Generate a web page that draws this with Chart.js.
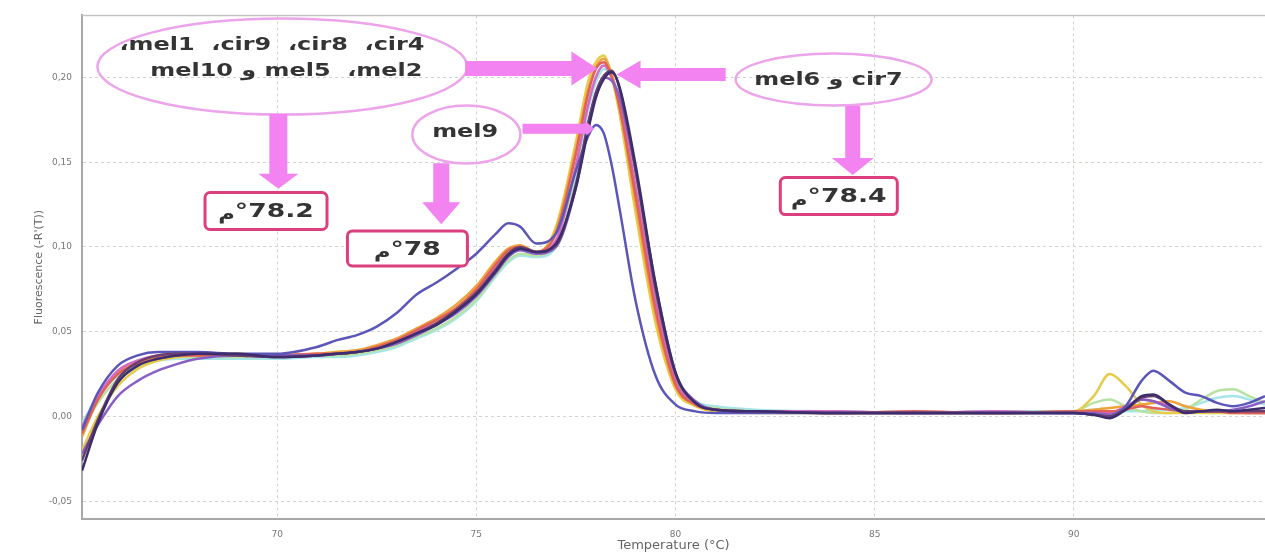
<!DOCTYPE html>
<html>
<head>
<meta charset="utf-8">
<script src="https://cdn.jsdelivr.net/npm/chart.js@4.4.1/dist/chart.umd.min.js"></script>
<style>
  html, body { margin: 0; padding: 0; background: #fff; }
  #wrap { width: 1265px; height: 553px; }
</style>
</head>
<body>
<div id="wrap"><canvas id="meltChart"></canvas></div>
<script>
// temperature (°C) sample points, shared by every curve
const temps = [
  65.1, 65.5, 66, 66.5, 67, 67.5, 68, 69, 70, 71, 71.5, 72, 72.5, 73, 73.5, 74, 74.5,
  75, 75.5, 75.8, 76.1, 76.5, 77, 77.5, 77.8, 78, 78.2, 78.4, 78.6, 79, 79.5, 80,
  80.5, 81, 82, 84, 86, 88, 90, 90.5, 90.9, 91.3, 91.7, 92, 92.4, 92.8, 93.2, 93.6,
  94, 94.4, 94.8,
];

// -R'(T) per sample
const mel6 = [
  -0.032, -0.004, 0.02, 0.03, 0.034, 0.036, 0.037, 0.037, 0.035, 0.036, 0.037, 0.038, 0.04,
  0.044, 0.049, 0.054, 0.062, 0.072, 0.086, 0.095, 0.099, 0.097, 0.102, 0.135, 0.168, 0.188,
  0.199, 0.203, 0.194, 0.148, 0.078, 0.026, 0.008, 0.004, 0.003, 0.002, 0.002, 0.002, 0.002,
  0.001, -0.001, 0.004, 0.012, 0.013, 0.007, 0.002, 0.003, 0.004, 0.003, 0.004, 0.005,
];
const cir7 = [
  -0.026, -0.002, 0.022, 0.032, 0.036, 0.037, 0.037, 0.036, 0.035, 0.036, 0.037, 0.038, 0.04,
  0.044, 0.049, 0.055, 0.063, 0.073, 0.087, 0.096, 0.1, 0.097, 0.101, 0.137, 0.172, 0.191,
  0.201, 0.204, 0.193, 0.145, 0.075, 0.025, 0.008, 0.004, 0.003, 0.002, 0.002, 0.002, 0.002,
  0.001, 0.0, 0.004, 0.011, 0.012, 0.007, 0.003, 0.003, 0.003, 0.003, 0.003, 0.003,
];
const mel9 = [
  -0.008, 0.014, 0.03, 0.036, 0.038, 0.038, 0.038, 0.037, 0.037, 0.041, 0.045, 0.048, 0.053,
  0.061, 0.072, 0.079, 0.087, 0.096, 0.108, 0.114, 0.112, 0.102, 0.108, 0.145, 0.165, 0.172,
  0.167, 0.148, 0.122, 0.068, 0.024, 0.007, 0.003, 0.002, 0.002, 0.002, 0.002, 0.002, 0.002,
  0.001, 0.0, 0.006, 0.021, 0.027, 0.021, 0.014, 0.012, 0.008, 0.006, 0.008, 0.012,
];
const mel10 = [
  -0.022, -0.005, 0.012, 0.021, 0.027, 0.031, 0.034, 0.036, 0.036, 0.036, 0.037, 0.038, 0.04,
  0.043, 0.048, 0.054, 0.061, 0.071, 0.085, 0.094, 0.098, 0.096, 0.1, 0.135, 0.172, 0.19,
  0.2, 0.198, 0.188, 0.145, 0.078, 0.026, 0.009, 0.004, 0.003, 0.002, 0.002, 0.002, 0.002,
  0.002, 0.001, 0.005, 0.01, 0.009, 0.005, 0.003, 0.003, 0.003, 0.004, 0.006, 0.009,
];
const cir4 = [
  -0.01, 0.01, 0.025, 0.031, 0.034, 0.036, 0.036, 0.036, 0.036, 0.037, 0.037, 0.038, 0.041,
  0.045, 0.051, 0.057, 0.064, 0.075, 0.09, 0.098, 0.1, 0.097, 0.108, 0.155, 0.19, 0.205,
  0.209, 0.2, 0.182, 0.13, 0.063, 0.019, 0.007, 0.004, 0.003, 0.002, 0.003, 0.002, 0.003,
  0.003, 0.003, 0.004, 0.006, 0.005, 0.004, 0.003, 0.003, 0.003, 0.002, 0.002, 0.002,
];
const cir8 = [
  -0.006, 0.012, 0.027, 0.033, 0.036, 0.037, 0.037, 0.036, 0.035, 0.036, 0.037, 0.038, 0.04,
  0.044, 0.05, 0.055, 0.062, 0.073, 0.088, 0.096, 0.1, 0.097, 0.104, 0.148, 0.183, 0.2,
  0.207, 0.2, 0.185, 0.135, 0.068, 0.021, 0.008, 0.004, 0.003, 0.003, 0.002, 0.003, 0.002,
  0.002, 0.002, 0.006, 0.01, 0.009, 0.006, 0.003, 0.003, 0.003, 0.003, 0.002, 0.002,
];
const cir9 = [
  -0.012, 0.01, 0.026, 0.032, 0.035, 0.036, 0.037, 0.037, 0.036, 0.037, 0.038, 0.039, 0.042,
  0.046, 0.052, 0.058, 0.066, 0.077, 0.092, 0.099, 0.101, 0.097, 0.11, 0.158, 0.192, 0.206,
  0.211, 0.202, 0.182, 0.126, 0.06, 0.018, 0.007, 0.004, 0.003, 0.002, 0.002, 0.002, 0.003,
  0.004, 0.005, 0.006, 0.007, 0.008, 0.009, 0.006, 0.004, 0.003, 0.003, 0.003, 0.003,
];
const mel1 = [
  -0.02, 0.0, 0.018, 0.028, 0.033, 0.035, 0.036, 0.036, 0.036, 0.037, 0.038, 0.039, 0.041,
  0.045, 0.05, 0.056, 0.064, 0.075, 0.09, 0.097, 0.099, 0.096, 0.112, 0.162, 0.197, 0.209,
  0.213, 0.2, 0.178, 0.12, 0.055, 0.016, 0.006, 0.003, 0.002, 0.002, 0.002, 0.002, 0.003,
  0.012, 0.025, 0.018, 0.007, 0.003, 0.002, 0.002, 0.002, 0.002, 0.002, 0.002, 0.002,
];
const mel5 = [
  -0.008, 0.008, 0.022, 0.029, 0.033, 0.035, 0.035, 0.035, 0.035, 0.036, 0.036, 0.037, 0.039,
  0.042, 0.047, 0.052, 0.059, 0.069, 0.084, 0.092, 0.096, 0.095, 0.103, 0.145, 0.185, 0.2,
  0.207, 0.201, 0.186, 0.136, 0.07, 0.023, 0.008, 0.005, 0.003, 0.002, 0.002, 0.002, 0.003,
  0.008, 0.01, 0.006, 0.003, 0.002, 0.002, 0.004, 0.01, 0.015, 0.016, 0.012, 0.008,
];
const mel2 = [
  -0.004, 0.012, 0.024, 0.03, 0.033, 0.034, 0.034, 0.034, 0.034, 0.035, 0.035, 0.036, 0.038,
  0.041, 0.046, 0.051, 0.058, 0.068, 0.083, 0.091, 0.095, 0.094, 0.1, 0.14, 0.18, 0.197,
  0.205, 0.2, 0.187, 0.14, 0.075, 0.025, 0.009, 0.006, 0.004, 0.003, 0.002, 0.003, 0.003,
  0.004, 0.003, 0.003, 0.003, 0.004, 0.004, 0.005, 0.008, 0.011, 0.012, 0.01, 0.007,
];

const samples = [
  { name: "mel6", values: mel6, color: "#3b2d6e" },
  { name: "cir7", values: cir7, color: "#6a3f6a" },
  { name: "mel9", values: mel9, color: "#5b56b8" },
  { name: "mel10", values: mel10, color: "#8a5fc4" },
  { name: "cir4", values: cir4, color: "#e0605a" },
  { name: "cir8", values: cir8, color: "#d46ac4" },
  { name: "cir9", values: cir9, color: "#eea23c" },
  { name: "mel1", values: mel1, color: "#e6cc4a" },
  { name: "mel5", values: mel5, color: "#b8e2a4" },
  { name: "mel2", values: mel2, color: "#a4e6ea" },
];

const xTicks = [70, 75, 80, 85, 90];
const yTicks = [-0.05, 0, 0.05, 0.1, 0.15, 0.2];

const PINK = "#f283f0";
const RING = "#eca4ea";
const BOX = "#dc3f7e";
const INK = "#343434";
const FONT = "'DejaVu Sans', sans-serif";
const STRETCH = 1.33;

function arrow(ctx, x1, y1, x2, y2, w, hl, hw) {
  const a = Math.atan2(y2 - y1, x2 - x1);
  const len = Math.hypot(x2 - x1, y2 - y1);
  ctx.save();
  ctx.translate(x1, y1);
  ctx.rotate(a);
  ctx.beginPath();
  ctx.moveTo(0, -w / 2);
  ctx.lineTo(len - hl, -w / 2);
  ctx.lineTo(len - hl, -hw / 2);
  ctx.lineTo(len, 0);
  ctx.lineTo(len - hl, hw / 2);
  ctx.lineTo(len - hl, w / 2);
  ctx.lineTo(0, w / 2);
  ctx.closePath();
  ctx.fillStyle = PINK;
  ctx.fill();
  ctx.restore();
}

function ring(ctx, cx, cy, rx, ry) {
  ctx.beginPath();
  ctx.ellipse(cx, cy, rx, ry, 0, 0, Math.PI * 2);
  ctx.strokeStyle = RING;
  ctx.lineWidth = 2.5;
  ctx.stroke();
}

// horizontally stretched text, like the scaled-up original figure
function label(ctx, txt, cx, cy, size) {
  ctx.save();
  ctx.translate(cx, cy);
  ctx.scale(STRETCH, 1);
  ctx.font = "bold " + size + "px " + FONT;
  ctx.fillStyle = INK;
  ctx.textAlign = "center";
  ctx.textBaseline = "middle";
  ctx.direction = "ltr";
  ctx.fillText(txt, 0, 0);
  ctx.restore();
}

function tempBox(ctx, cx, cy, w, h, num) {
  ctx.save();
  ctx.beginPath();
  ctx.roundRect(cx - w / 2, cy - h / 2, w, h, 5);
  ctx.fillStyle = "#fff";
  ctx.fill();
  ctx.strokeStyle = BOX;
  ctx.lineWidth = 3;
  ctx.stroke();
  ctx.translate(cx, cy);
  ctx.scale(STRETCH, 1);
  ctx.fillStyle = INK;
  ctx.textBaseline = "middle";
  ctx.textAlign = "left";
  ctx.font = "bold 17px " + FONT;
  const wm = ctx.measureText("م").width;
  ctx.font = "bold 20px " + FONT;
  const wn = ctx.measureText("°" + num).width;
  const x0 = -(wm + wn) / 2;
  ctx.fillText("°" + num, x0 + wm, 1);
  ctx.font = "bold 17px " + FONT;
  ctx.fillText("م", x0, 5);
  ctx.restore();
}

const notesPlugin = {
  id: "notes",
  afterDatasetsDraw(chart) {
    const { ctx, chartArea, scales } = chart;
    const X = (t) => scales.x.getPixelForValue(t);
    const Y = (v) => scales.y.getPixelForValue(v);

    // frame top edge
    ctx.save();
    ctx.strokeStyle = "#c4c4c4";
    ctx.lineWidth = 1.5;
    ctx.beginPath();
    ctx.moveTo(chartArea.left, chartArea.top);
    ctx.lineTo(chartArea.right, chartArea.top);
    ctx.stroke();

    // big group, peak at 78.2
    ring(ctx, X(70.13), Y(0.2064), 185, 48);
    label(ctx, "،mel1  ،cir9  ،cir8  ،cir4", X(69.87), Y(0.2192), 18);
    label(ctx, "mel10 و mel5  ،mel2", X(70.23), Y(0.2035), 18);
    arrow(ctx, X(74.72), Y(0.2052), X(78.04), Y(0.2052), 15, 26, 34);
    arrow(ctx, X(70.03), Y(0.1785), X(70.03), Y(0.1343), 18, 15, 40);
    tempBox(ctx, X(69.72), Y(0.1212), 122, 37, "78.2");

    // mel9, peak at 78
    ring(ctx, X(74.75), Y(0.1663), 54, 29);
    label(ctx, "mel9", X(74.72), Y(0.1675), 18);
    arrow(ctx, X(76.16), Y(0.1698), X(77.96), Y(0.1698), 10, 8, 14);
    arrow(ctx, X(74.12), Y(0.1494), X(74.12), Y(0.1134), 16, 22, 38);
    tempBox(ctx, X(73.27), Y(0.0991), 120, 35, "78");

    // mel6 and cir7, peak at 78.4
    ring(ctx, X(83.97), Y(0.1988), 98, 26);
    label(ctx, "mel6 و cir7", X(83.84), Y(0.1983), 18);
    arrow(ctx, X(81.26), Y(0.2017), X(78.52), Y(0.2017), 13, 24, 28);
    arrow(ctx, X(84.45), Y(0.1831), X(84.45), Y(0.1424), 15, 17, 42);
    tempBox(ctx, X(84.1), Y(0.13), 117, 37, "78.4");
    ctx.restore();
  },
};

new Chart(document.getElementById("meltChart"), {
  type: "line",
  data: {
    datasets: samples.map((s) => ({
      label: s.name,
      data: temps.map((t, i) => ({ x: t, y: s.values[i] })),
      borderColor: s.color,
      borderWidth: 2.5,
      pointRadius: 0,
      fill: false,
      cubicInterpolationMode: "monotone",
    })),
  },
  options: {
    responsive: true,
    maintainAspectRatio: false,
    animation: false,
    layout: { padding: { top: 8, right: 0, left: 0, bottom: 0 } },
    scales: {
      x: {
        type: "linear",
        min: 65.1,
        max: 94.8,
        afterBuildTicks: (scale) => {
          scale.ticks = xTicks.map((v) => ({ value: v }));
        },
        afterFit: (scale) => {
          scale.height = 34;
        },
        grid: { color: "#cfd6cb", drawTicks: false },
        border: { display: true, color: "#a8a8a8", width: 2, dash: [3, 3] },
        ticks: { padding: 10, color: "#777", font: { family: FONT, size: 9 } },
        title: {
          display: true,
          text: "Temperature (°C)",
          color: "#666",
          font: { family: FONT, size: 13 },
          padding: { top: 0, bottom: 0 },
        },
      },
      y: {
        min: -0.0605,
        max: 0.2366,
        afterBuildTicks: (scale) => {
          scale.ticks = yTicks.map((v) => ({ value: v }));
        },
        afterFit: (scale) => {
          scale.width = 82;
        },
        grid: { color: "#cfd6cb", drawTicks: false },
        border: { display: true, color: "#a8a8a8", width: 2, dash: [3, 3] },
        ticks: {
          padding: 10,
          color: "#777",
          font: { family: FONT, size: 9 },
          callback: (v) => v.toFixed(2).replace(".", ","),
        },
        title: {
          display: true,
          text: "Fluorescence (-R'(T))",
          color: "#666",
          font: { family: FONT, size: 11 },
          padding: { top: 33, bottom: 0 },
        },
      },
    },
    plugins: {
      legend: { display: false },
      tooltip: { enabled: false },
    },
  },
  plugins: [notesPlugin],
});
</script>
</body>
</html>
